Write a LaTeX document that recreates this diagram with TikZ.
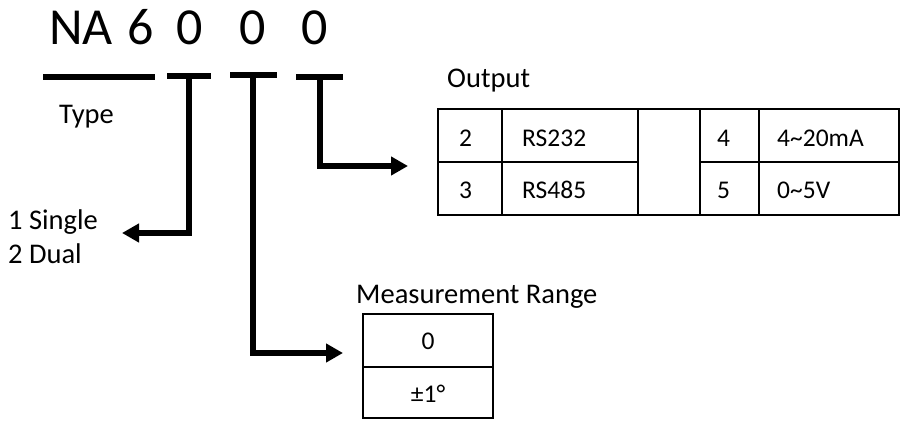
\documentclass[tikz,border=0pt]{standalone}
\usepackage{fontspec}
\setmainfont{Carlito}
\usetikzlibrary{arrows.meta}
\begin{document}
\begin{tikzpicture}[x=1pt,y=-1pt,
  lbl/.style={inner sep=0pt, anchor=base west, font=\fontsize{28.5}{33}\selectfont},
  cell/.style={inner sep=0pt, anchor=base west, font=\fontsize{25.5}{30}\selectfont},
  cellc/.style={inner sep=0pt, anchor=base, font=\fontsize{25.5}{30}\selectfont},
  big/.style={inner sep=0pt, anchor=base west, font=\fontsize{52}{58}\selectfont},
  bar/.style={line width=6pt},
  conn/.style={line width=6pt, line join=miter, -{Triangle[length=17pt,width=18pt]}},
  gridline/.style={line width=2.5pt, line join=miter}]
\useasboundingbox (0,0) rectangle (901,420);

% title
\node[big] (na) at (49,45) {NA};
\node[big] (six) at (127,45) {6};
\node[big] (z1) at (176,45) {0};
\node[big] (z2) at (239,45) {0};
\node[big] (z3) at (301,45) {0};

% bars
\coordinate (b1l) at (43,77);
\coordinate (b1r) at (155,77);
\draw[bar] (b1l) -- (b1r);
\coordinate (t2l) at (167,75.5);
\coordinate (t2r) at (211,75.5);
\coordinate (t2) at (189,75.5);
\draw[bar] (t2l) -- (t2r);
\coordinate (t3l) at (230,75);
\coordinate (t3r) at (277,75);
\coordinate (t3) at (253,75);
\draw[bar] (t3l) -- (t3r);
\coordinate (t4l) at (296,76.5);
\coordinate (t4r) at (343,76.5);
\coordinate (t4) at (320,76.5);
\draw[bar] (t4l) -- (t4r);

% labels
\node[lbl] (type) at (59,123) {Type};
\node[lbl] (single) at (8,229) {1 Single};
\node[lbl] (dual) at (8,263) {2 Dual};
\node[lbl] (outlbl) at (447,87) {Output};
\node[lbl] (mrlbl) at (356,303) {Measurement Range};

% arrow tips
\coordinate (tip2) at (122,233);
\coordinate (tip3) at (343,353);
\coordinate (tip4) at (408,166);
\draw[conn] (t2) |- (tip2);
\draw[conn] (t3) |- (tip3);
\draw[conn] (t4) |- (tip4);

% output table
\draw[gridline] (438,109) rectangle (899,215);
\draw[gridline] (438,162) -- (638,162);
\draw[gridline] (700,162) -- (899,162);
\draw[gridline] (502,109) -- (502,215);
\draw[gridline] (638,109) -- (638,215);
\draw[gridline] (700,109) -- (700,215);
\draw[gridline] (759,109) -- (759,215);
\node[cell] (c2) at (459,146) {2};
\node[cell] (c232) at (522,146) {RS232};
\node[cell] (c4) at (717,146) {4};
\node[cell] (c420) at (777,146) {4\textasciitilde20mA};
\node[cell] (c3) at (459,198) {3};
\node[cell] (c485) at (522,198) {RS485};
\node[cell] (c5) at (717,198) {5};
\node[cell] (c05) at (777,198) {0\textasciitilde5V};

% measurement table
\draw[gridline] (363,314) rectangle (493,418);
\draw[gridline] (363,367) -- (493,367);
\node[cellc] (m0) at (428,349) {0};
\node[cellc] (m1) at (428,402) {±1°};
\end{tikzpicture}
\end{document}
